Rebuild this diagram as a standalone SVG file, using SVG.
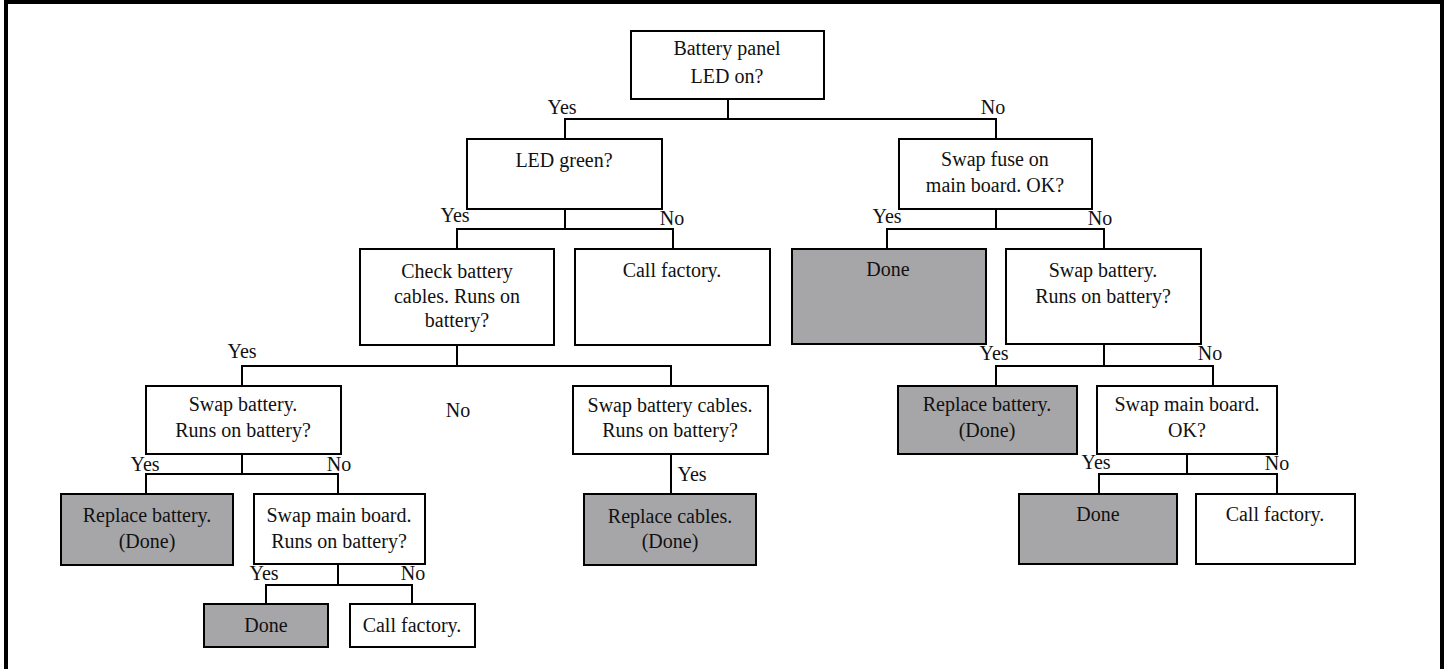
<svg xmlns="http://www.w3.org/2000/svg" width="1445" height="669" viewBox="0 0 1445 669">
<style>
.b{fill:#ffffff;stroke:#000;stroke-width:2}
.g{fill:#a6a6a8;stroke:#000;stroke-width:2}
.t{font-family:"Liberation Serif","Times New Roman",serif;font-size:20px;fill:#111;text-anchor:middle}
.c{fill:none;stroke:#000;stroke-width:2}
</style>
<rect x="0" y="0" width="1445" height="669" fill="#ffffff"/>
<path d="M6,669 V2 H1442 V669" fill="none" stroke="#000" stroke-width="4"/>
<g id="connectors" class="c">
<path d="M728,99 V119 M565,139 V119 H996 V139"/>
<path d="M565,209 V229 M457,249 V229 H673 V249"/>
<path d="M996,209 V229 M887,249 V229 H1104 V249"/>
<path d="M457,345 V366 M242,386 V366 H671 V386"/>
<path d="M242,454 V474 M146,494 V474 H338 V494"/>
<path d="M338,564 V585 M266,604 V585 H412 V604"/>
<path d="M671,454 V494"/>
<path d="M1104,344 V366 M996,386 V366 H1213 V386"/>
<path d="M1187,454 V474 M1099,494 V474 H1277 V494"/>
</g>
<g id="labels" class="t">
<text x="562" y="114">Yes</text>
<text x="993" y="114">No</text>
<text x="455" y="222">Yes</text>
<text x="672" y="225">No</text>
<text x="887" y="223">Yes</text>
<text x="1100" y="225">No</text>
<text x="242" y="358">Yes</text>
<text x="458" y="417">No</text>
<text x="994" y="360">Yes</text>
<text x="1210" y="360">No</text>
<text x="145" y="471">Yes</text>
<text x="339" y="471">No</text>
<text x="1096" y="469">Yes</text>
<text x="1277" y="470">No</text>
<text x="264" y="580">Yes</text>
<text x="413" y="580">No</text>
<text x="692" y="481">Yes</text>
</g>
<g id="n-root"><rect class="b" x="631" y="31" width="193" height="68"/><text class="t" x="727" y="55">Battery panel</text><text class="t" x="727" y="83">LED on?</text></g>
<g id="n-ledgreen"><rect class="b" x="467" y="139" width="195" height="70"/><text class="t" x="564" y="167">LED green?</text></g>
<g id="n-swapfuse"><rect class="b" x="899" y="139" width="193" height="70"/><text class="t" x="995" y="166">Swap fuse on</text><text class="t" x="995" y="192">main board. OK?</text></g>
<g id="n-checkcables"><rect class="b" x="360" y="249" width="194" height="96"/><text class="t" x="457" y="278">Check battery</text><text class="t" x="457" y="303">cables. Runs on</text><text class="t" x="457" y="327">battery?</text></g>
<g id="n-callfactory1"><rect class="b" x="575" y="249" width="195" height="96"/><text class="t" x="672" y="277">Call factory.</text></g>
<g id="n-done1"><rect class="g" x="792" y="249" width="194" height="95"/><text class="t" x="888" y="276">Done</text></g>
<g id="n-swapbattery-r"><rect class="b" x="1006" y="249" width="195" height="95"/><text class="t" x="1103" y="277">Swap battery.</text><text class="t" x="1103" y="303">Runs on battery?</text></g>
<g id="n-swapbattery-l"><rect class="b" x="146" y="386" width="195" height="68"/><text class="t" x="243" y="411">Swap battery.</text><text class="t" x="243" y="437">Runs on battery?</text></g>
<g id="n-swapcables"><rect class="b" x="573" y="386" width="195" height="68"/><text class="t" x="670" y="412">Swap battery cables.</text><text class="t" x="670" y="437">Runs on battery?</text></g>
<g id="n-replacebattery-r"><rect class="g" x="898" y="386" width="179" height="68"/><text class="t" x="987" y="411">Replace battery.</text><text class="t" x="987" y="437">(Done)</text></g>
<g id="n-swapmain-r"><rect class="b" x="1097" y="386" width="180" height="68"/><text class="t" x="1187" y="411">Swap main board.</text><text class="t" x="1187" y="437">OK?</text></g>
<g id="n-replacebattery-l"><rect class="g" x="61" y="494" width="172" height="71"/><text class="t" x="147" y="522">Replace battery.</text><text class="t" x="147" y="548">(Done)</text></g>
<g id="n-swapmain-l"><rect class="b" x="254" y="494" width="171" height="70"/><text class="t" x="339" y="522">Swap main board.</text><text class="t" x="339" y="548">Runs on battery?</text></g>
<g id="n-replacecables"><rect class="g" x="584" y="494" width="172" height="71"/><text class="t" x="670" y="523">Replace cables.</text><text class="t" x="670" y="548">(Done)</text></g>
<g id="n-done-r"><rect class="g" x="1019" y="494" width="158" height="70"/><text class="t" x="1098" y="521">Done</text></g>
<g id="n-callfactory-r"><rect class="b" x="1196" y="494" width="159" height="70"/><text class="t" x="1275" y="521">Call factory.</text></g>
<g id="n-done-l"><rect class="g" x="204" y="604" width="124" height="43"/><text class="t" x="266" y="632">Done</text></g>
<g id="n-callfactory-l"><rect class="b" x="350" y="604" width="125" height="43"/><text class="t" x="412" y="632">Call factory.</text></g>
</svg>
